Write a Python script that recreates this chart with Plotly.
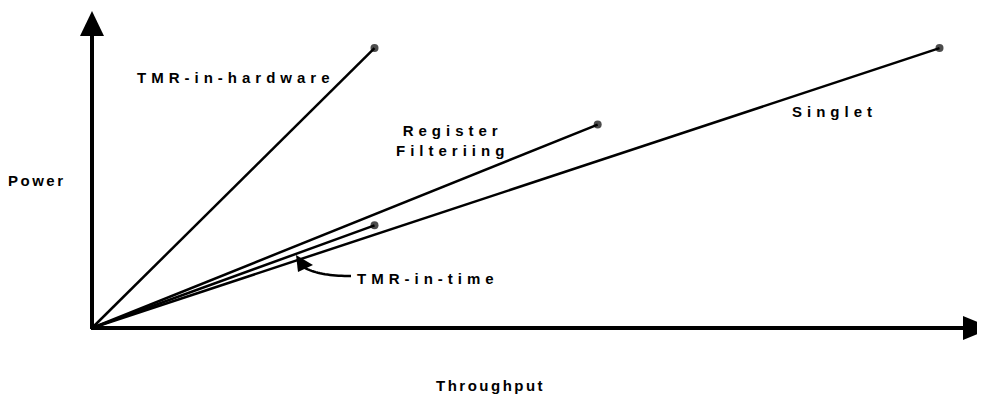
import plotly.graph_objects as go

# ---- data (arbitrary units) ----
series_names = ["TMR-in-hardware", "Register Filteriing", "TMR-in-time", "Singlet"]
throughput = [1.0, 1.79, 1.0, 3.0]
power = [3.0, 2.18, 1.10, 3.0]
x_title = "Throughput"
y_title = "Power"

W, H = 985, 394
OX, OY = 84, 320           # pixel position of the origin
PX_PER_X = 282.5           # pixels per throughput unit
PX_PER_Y = 93.3            # pixels per power unit

def spaced(s, sp="\u2004"):
    return sp.join(list(s))

def pp(x, y):
    """pixel -> paper coords"""
    return x / W, 1 - y / H

fig = go.Figure()

for name, tx, pw in zip(series_names, throughput, power):
    fig.add_trace(go.Scatter(
        x=[0, tx], y=[0, pw], mode="lines+markers", name=name,
        line=dict(color="black", width=2.5),
        marker=dict(color="black", size=[0, 8], line=dict(width=0)),
        showlegend=False, hoverinfo="skip"))

shapes = []
def pline(x0, y0, x1, y1, w):
    a, b = pp(x0, y0); c, d = pp(x1, y1)
    shapes.append(dict(type="line", xref="paper", yref="paper", x0=a, y0=b, x1=c, y1=d,
                       line=dict(color="black", width=w)))
def ppath(points, fill=True, w=0):
    segs = []
    for i, (x, y) in enumerate(points):
        a, b = pp(x, y)
        segs.append(("M" if i == 0 else "L") + f" {a:.5f} {b:.5f}")
    path = " ".join(segs) + (" Z" if fill else "")
    shapes.append(dict(type="path", xref="paper", yref="paper", path=path,
                       fillcolor="black" if fill else "rgba(0,0,0,0)",
                       line=dict(color="black", width=w)))

# y axis with arrow
pline(OX, OY + 1, OX, 26, 4)
ppath([(OX, 3), (OX - 12, 28), (OX + 12, 28)])
# x axis with arrow
pline(OX - 1, OY, 957, OY, 4)
ppath([(984, OY), (955, OY - 12), (955, OY + 12)])

# curved pointer for TMR-in-time (tip sits on the TMR-in-time line)
tx_tip = 288
ty_tip = OY - (tx_tip - OX) * (power[2] * PX_PER_Y) / (throughput[2] * PX_PER_X) + 1
tip = (tx_tip, ty_tip)
p0, p1, p2 = (343, 268), (310, 268), (tip[0] + 7, tip[1] + 12)
curve = []
for i in range(21):
    t = i / 20
    x = (1 - t) ** 2 * p0[0] + 2 * (1 - t) * t * p1[0] + t * t * p2[0]
    y = (1 - t) ** 2 * p0[1] + 2 * (1 - t) * t * p1[1] + t * t * p2[1]
    curve.append((x, y))
ppath(curve, fill=False, w=2.5)
ppath([tip, (tip[0] + 2, tip[1] + 17), (tip[0] + 17, tip[1] + 10)])

fig.update_layout(shapes=shapes)

font = dict(family="Liberation Sans, Arial, sans-serif", size=15, color="black", weight="bold")
def label(text, x, y):
    a, b = pp(x, y)
    fig.add_annotation(text=text, x=a, y=b, xref="paper", yref="paper", showarrow=False,
                       xanchor="center", yanchor="middle", font=font, align="center")

label(spaced(series_names[0]), 225, 70)
label(spaced("Register") + "<br>" + spaced("Filteriing"), 442, 132)
label(spaced(series_names[2]), 417, 270)
label(spaced(series_names[3]), 824, 103)
label(spaced(y_title, "\u2006"), 27, 172)
label(spaced(x_title, "\u2006"), 481, 377)

fig.update_xaxes(visible=False, range=[-OX / PX_PER_X, (W - OX) / PX_PER_X], fixedrange=True)
fig.update_yaxes(visible=False, range=[-(H - OY) / PX_PER_Y, OY / PX_PER_Y], fixedrange=True)
fig.update_layout(width=W, height=H, margin=dict(l=0, r=0, t=0, b=0),
                  paper_bgcolor="white", plot_bgcolor="white")

fig.write_html("out.html")
